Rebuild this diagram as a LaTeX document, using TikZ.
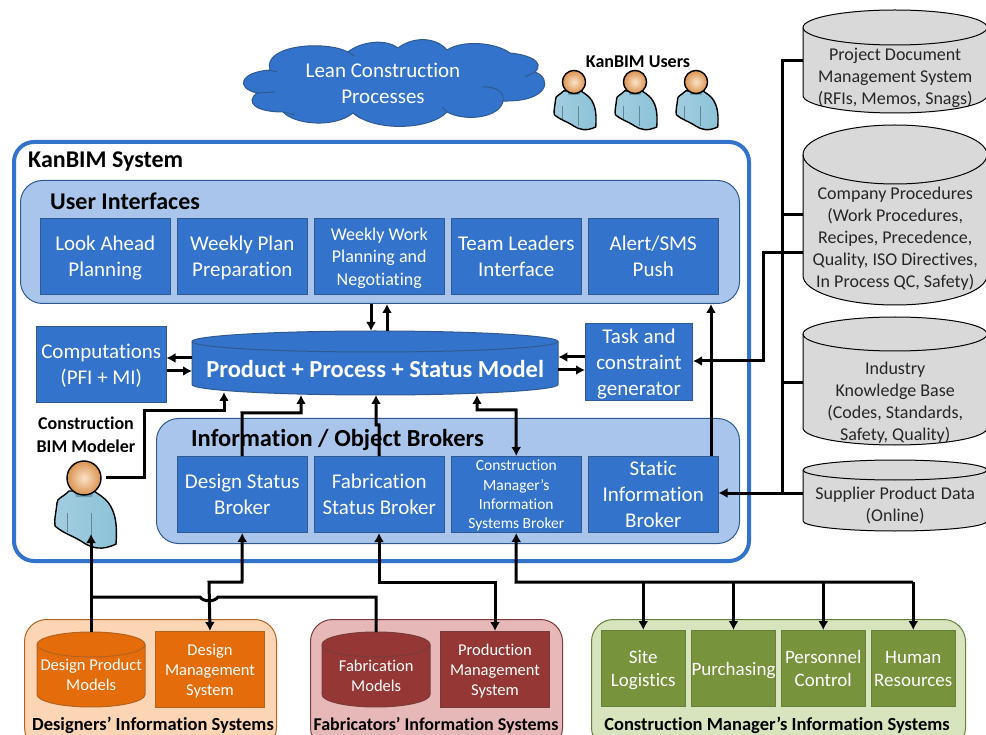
\documentclass[tikz,border=0pt]{standalone}
\usepackage{fontspec}
\setmainfont[Ligatures=NoCommon]{Carlito}
\usetikzlibrary{arrows.meta}
\definecolor{kanblue}{HTML}{3473CC}
\definecolor{kanedge}{HTML}{2F5A8F}
\definecolor{kanpale}{HTML}{A9C5EB}
\definecolor{desfill}{HTML}{E46C0A}
\definecolor{despale}{HTML}{FCD5B5}
\definecolor{desedge}{HTML}{B3631F}
\definecolor{fabfill}{HTML}{953735}
\definecolor{fabpale}{HTML}{E6B9B8}
\definecolor{fabedge}{HTML}{7A3A3A}
\definecolor{cmfill}{HTML}{77933C}
\definecolor{cmpale}{HTML}{D7E4BD}
\definecolor{cmedge}{HTML}{64803A}
\definecolor{storegray}{HTML}{D9D9D9}
\definecolor{skinlight}{HTML}{FBE3C8}
\definecolor{skinedge}{HTML}{D9924F}
\definecolor{shirtleft}{HTML}{A3CDE0}
\definecolor{shirtmid}{HTML}{CDEBF0}
\definecolor{shirtright}{HTML}{8CC3D8}
\newcommand{\fsbox}{\fontsize{21}{26}\selectfont}
\newcommand{\fsmid}{\fontsize{18}{22.5}\selectfont}
\newcommand{\fstiny}{\fontsize{15.5}{19.3}\selectfont}
\newcommand{\fssys}{\fontsize{16.5}{20}\selectfont}
\newcommand{\fsstore}{\fontsize{18}{22}\selectfont}
% name, left, top, width, height, cap height, text shift, style, text
\newcommand{\drum}[9]{
    \path[#8, line width=1pt] (#2,#3+#6) arc[start angle=180, end angle=360, x radius=#4/2, y radius=#6]
        -- ++(0,#5-2*#6) arc[start angle=0, end angle=180, x radius=#4/2, y radius=#6] -- cycle;
    \path[#8, fill=none, line width=1pt] (#2,#3+#6) arc[start angle=180, end angle=0, x radius=#4/2, y radius=#6];
    \node[#8, draw=none, fill=none, align=center, inner sep=0pt, anchor=north west, minimum width=#4pt, minimum height=#5pt, yshift=-#7pt] (#1) at (#2,#3) {#9};
    \coordinate (#1-top) at (#2+#4/2,#3);
    \coordinate (#1-bot) at (#2+#4/2,#3+#5);
}
\tikzset{
    panel/.style={draw=#1, line width=1pt, rounded corners=22pt, anchor=north west, inner sep=0pt},
    uibox/.style={draw=kanedge, fill=kanblue, line width=1pt, text=white, align=center, font=\fsbox, text depth=0pt, anchor=north west, inner sep=0pt, minimum width=129.5pt, minimum height=76pt},
    sysbox/.style={uibox, font=\fssys, minimum width=109pt},
    store/.style={draw=black, fill=storegray, text=black!85, font=\fsstore},
    title/.style={font=\bfseries\fontsize{#1}{#1}\selectfont, anchor=west, inner sep=0pt},
    capt/.style={font=\bfseries\fontsize{18.5}{18.5}\selectfont, inner sep=0pt},
    link/.style={line width=3pt, line join=miter},
    >={Latex[length=9pt,width=10pt]},
    user/.pic={
        \draw[line width=1.4pt, left color=shirtleft, middle color=shirtmid, right color=shirtright]
            (-15,13) .. controls (-22,20) and (-27,20) .. (-27,25) .. controls (-28,35) and (-30,42) .. (-29,48)
            .. controls (-20,56) and (-10,58) .. (0,65) .. controls (8,70) and (18,73) .. (32,66)
            .. controls (33,50) and (33,35) .. (23,23) .. controls (18,18) and (14,16) .. (10,13) -- cycle;
        \draw[line width=.6pt, shirtright!70!black] (-17,35) -- (-17,54) (7,35) -- (7,65);
        \fill[shirtright!80!black] (-10,12) -- (10,12) -- (8,19) -- (-8,19) -- cycle;
        \draw[line width=1.4pt, shading=radial, inner color=skinlight, outer color=skinedge] (0,0) circle (17);
        \coordinate (-arm) at (22,-1);
        \coordinate (-foot) at (7,56);
    }
}

\begin{document}
\begin{tikzpicture}[x=1pt, y=-1pt]
    \useasboundingbox (0,0) rectangle (986,735);
    \clip (0,0) rectangle (987,735);

    % top of the page
    \draw[fill=kanblue, draw=kanedge, line width=1pt] (270,70) .. controls (262,45) and (325,40) .. (348,52)
        .. controls (360,42) and (385,38) .. (398,48) .. controls (412,37) and (435,36) .. (447,50)
        .. controls (462,40) and (495,42) .. (510,53) .. controls (530,55) and (545,62) .. (535,72)
        .. controls (552,78) and (550,102) .. (503,101) .. controls (500,118) and (465,122) .. (447,112)
        .. controls (430,130) and (375,132) .. (353,113) .. controls (335,128) and (295,125) .. (283,112)
        .. controls (255,112) and (245,102) .. (257,93) .. controls (235,88) and (240,72) .. (270,70) -- cycle;
    \draw[draw=kanedge, line width=1pt] (270,70) -- (277,72) (348,52) -- (354,56) (503,101) .. controls (505,92) and (495,86) .. (482,87)
        (535,72) -- (525,77) (447,112) -- (442,107) (353,113) -- (360,118) (283,112) -- (295,115) (257,93) -- (275,92);
    \node[text=white, align=center, font=\fsbox, inner sep=0pt] (lean) at (383,83) {Lean Construction\\Processes};
    \node[font=\bfseries\fontsize{18}{18}\selectfont, inner sep=0pt] (users) at (638,62) {KanBIM Users};
    \foreach \i/\x in {1/574, 2/635, 3/696} {
        \pic[scale=.68] (user-\i) at (\x,82) {user};
    }

    % main system frame
    \node[draw=kanblue, line width=4pt, rounded corners=20pt, minimum width=735pt, minimum height=419pt, anchor=north west, inner sep=0pt] (kanbim) at (12,140) {};
    \node[title=24] (kanbim-title) at (28,162) {KanBIM System};

    \node[panel=kanedge, fill=kanpale, minimum width=719pt, minimum height=123pt] (ui) at (20,180) {};
    \node[title=24] (ui-title) at (50,201) {User Interfaces};
    \foreach \i/\x/\txt in {1/40/Look Ahead\\Planning, 2/177/Weekly Plan\\Preparation, 4/451/Team Leaders\\Interface, 5/588/{Alert/SMS\\Push}} {
        \node[uibox] (ui-\i) at (\x,218) {\txt};
    }
    \node[uibox, font=\fsmid] (ui-3) at (314,218) {Weekly Work\\Planning and\\Negotiating};

    \node[uibox] (comp) at (36,326) {Computations\\(PFI + MI)};
    \node[uibox, minimum width=107pt, minimum height=77pt] (task) at (585,323) {Task and\\constraint\\generator};
    \drum{model}{192}{331}{366}{64}{10.5}{6}{draw=kanedge, fill=kanblue, text=white, font=\bfseries\fontsize{24.5}{28}\selectfont}{Product + Process + Status Model}

    \node[panel=kanedge, fill=kanpale, minimum width=583pt, minimum height=125pt] (info) at (156,418) {};
    \node[title=24.5] (info-title) at (191,440) {Information / Object Brokers};
    \foreach \i/\x/\txt in {1/177/Design Status\\Broker, 2/314/Fabrication\\Status Broker} {
        \node[uibox] (broker-\i) at (\x,456) {\txt};
    }
    \node[uibox, font=\fstiny] (broker-3) at (451,456) {Construction\\Manager’s\\Information\\Systems Broker};
    \node[uibox] (broker-4) at (588,456) {Static\\Information\\Broker};

    \node[font=\bfseries\fontsize{18}{22.5}\selectfont, align=center, inner sep=0pt] (modeler-title) at (86,435) {Construction\\BIM Modeler};
    \pic (modeler) at (84,478) {user};

    % data stores on the right
    \drum{project}{803}{10}{184}{103}{17.5}{16}{store}{Project Document\\Management System\\(RFIs, Memos, Snags)}
    \drum{company}{803}{125}{184}{180}{29.5}{24}{store}{Company Procedures\\(Work Procedures,\\Recipes, Precedence,\\Quality, ISO Directives,\\In Process QC, Safety)}
    \drum{industry}{803}{317}{184}{128}{17}{22}{store}{Industry\\Knowledge Base\\(Codes, Standards,\\Safety, Quality)}
    \drum{supplier}{803}{460}{184}{71}{10}{9.5}{store}{Supplier Product Data\\(Online)}

    % external systems
    \node[panel=desedge, fill=despale, minimum width=252pt, minimum height=130pt] (designers) at (24,619) {};
    \node[capt] (designers-title) at (153,725) {Designers’ Information Systems};
    \node[panel=fabedge, fill=fabpale, minimum width=252pt, minimum height=130pt] (fabricators) at (310,619) {};
    \node[capt, font=\bfseries\fontsize{18}{18}\selectfont] (fabricators-title) at (436,725) {Fabricators’ Information Systems};
    \node[panel=cmedge, fill=cmpale, minimum width=374pt, minimum height=130pt] (managers) at (591,619) {};
    \node[capt] (managers-title) at (777,725) {Construction Manager’s Information Systems};

    \drum{design-models}{37}{632}{108}{75}{12.5}{5.5}{draw=desedge, fill=desfill, text=white, font=\fssys}{Design Product\\Models}
    \node[sysbox, draw=desedge, fill=desfill] (design-sys) at (155,631) {Design\\Management\\System};
    \drum{fab-models}{322}{632}{108}{75}{12.5}{6.5}{draw=fabedge, fill=fabfill, text=white, font=\fssys}{Fabrication\\Models}
    \node[sysbox, draw=fabedge, fill=fabfill] (fab-sys) at (440,631) {Production\\Management\\System};
    \foreach \i/\x/\txt in {1/601/Site\\Logistics, 2/691/Purchasing, 3/781/Personnel\\Control, 4/871/Human\\Resources} {
        \node[uibox, draw=cmedge, fill=cmfill, font=\fontsize{19}{23}\selectfont, minimum width=83.5pt] (cm-\i) at (\x,630) {\txt};
    }

    % connectors inside the frame
    \draw[link,->] (model.west |- 0,358) -- (comp.east |- 0,358);
    \draw[link,->] (comp.east |- 0,371) -- (model.west |- 0,371);
    \draw[link,->] (task.west |- 0,357) -- (model.east |- 0,357);
    \draw[link,->] (model.east |- 0,370) -- (task.west |- 0,370);
    \draw[link,->] (ui.south -| 371,0) -- (model-top -| 371,0);
    \draw[link,->] (model-top -| 387,0) -- (ui.south -| 387,0);
    \draw[link,->, shorten >=-3pt] (modeler-arm) -- (144,477) -- (144,411) -- (224,411) -- (model-bot -| 224,0);
    \draw[link,->] (broker-1.north) -- (242,413) -- (301,413) -- (model-bot -| 301,0);
    \draw[link,->] (broker-2.north) -- (379,425) -- (376,425) -- (model-bot -| 376,0);
    \draw[link,<->] (broker-3.north) -- (516,410) -- (477,410) -- (model-bot -| 477,0);
    \draw[link,->] (broker-4.north -| 711,0) -- (ui.south -| 711,0);

    % connectors to the stores
    \draw[link,->] (company.west |- 0,253) -- (763,253) -- (763,361) -- (task.east |- 0,361);
    \draw[link] (project.west |- 0,61) -- (782,61) -- (782,493);
    \draw[link] (company.west |- 0,215) -- (782,215);
    \draw[link] (industry.west |- 0,383) -- (782,383);
    \draw[link,->] (supplier.west |- 0,493) -- (broker-4.east |- 0,493);

    % connectors to the external systems
    \draw[link,->] (design-models-top) -- (modeler-foot);
    \draw[link] (91,597) -- (200,597) .. controls (203,602) and (215,602) .. (218,597) -- (376,597) -- (fab-models-top);
    \draw[link,<->] (broker-1.south) -- (242,582) -- (209,582) -- (design-sys.north);
    \draw[link,<->] (broker-2.south -| 379,0) -- (379,582) -- (495,582) -- (fab-sys.north);
    \draw[link,<-] (broker-3.south) -- (516,582) -- (913,582);
    \foreach \i in {1,...,4} {
        \draw[link,->] (cm-\i.north |- 0,582) -- (cm-\i.north);
    }
\end{tikzpicture}
\end{document}
